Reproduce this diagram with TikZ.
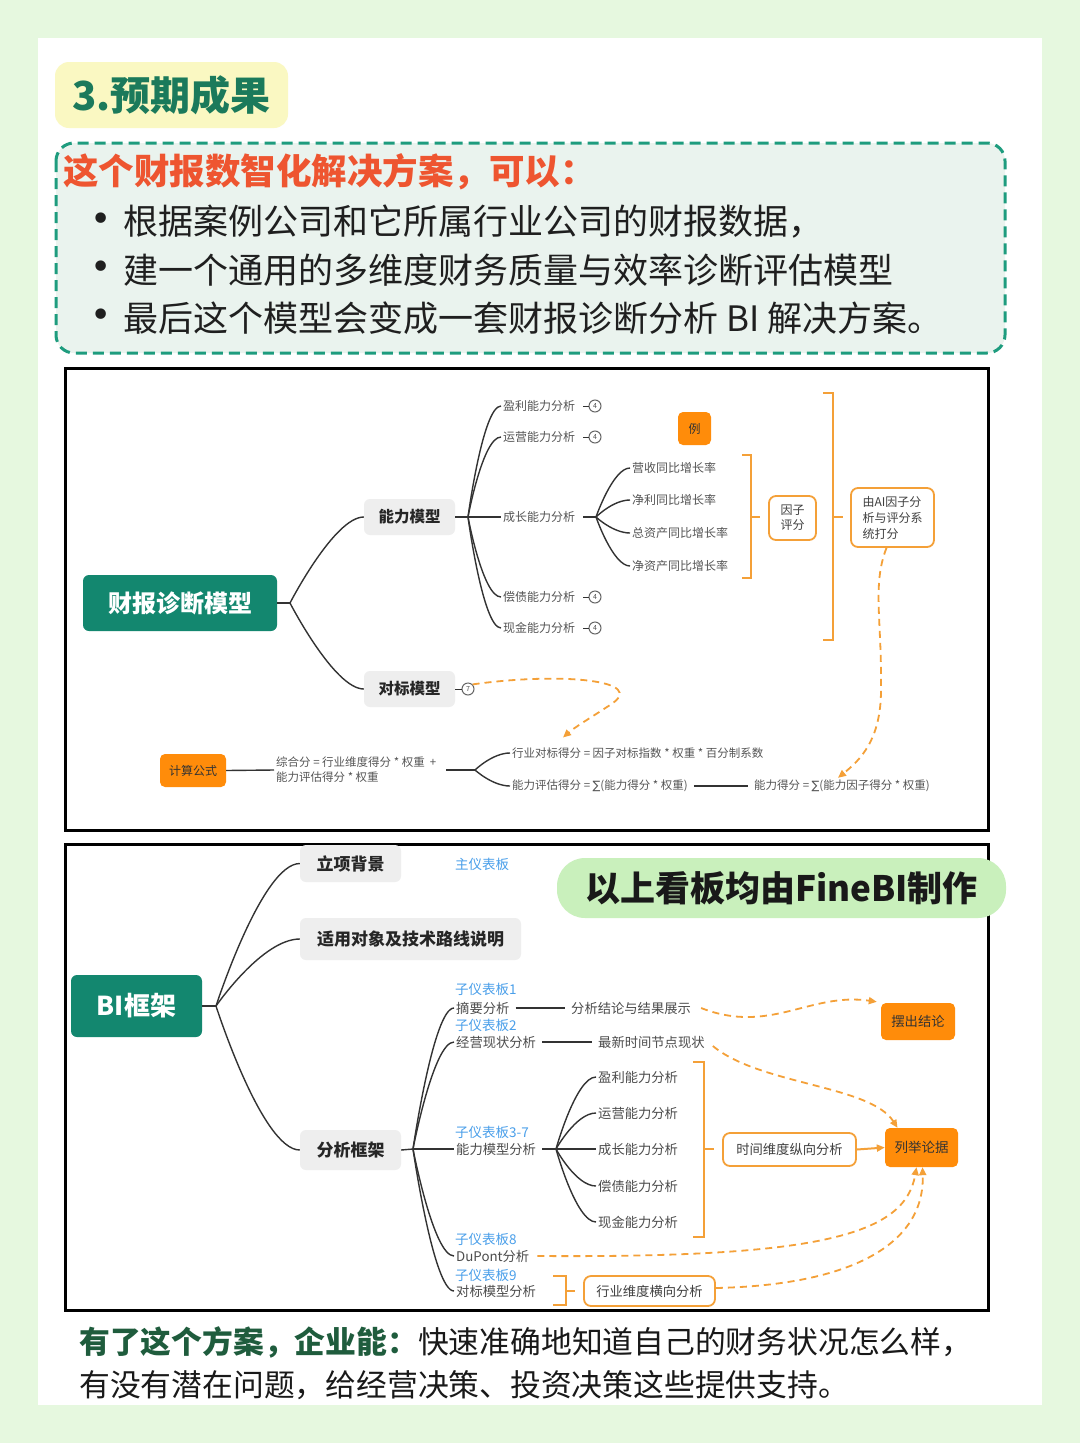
\documentclass[tikz,border=0pt]{standalone}
\usepackage{fontspec}
\setmainfont{Noto Sans CJK SC}
\newfontfamily\symf{DejaVu Sans}
\usetikzlibrary{arrows.meta,calc}
\definecolor{bgout}{HTML}{E6F8DF}
\definecolor{tealc}{HTML}{13876F}
\definecolor{dashteal}{HTML}{1E9C7E}
\definecolor{boxfill}{HTML}{EAF3EE}
\definecolor{ttlgreen}{HTML}{1B7A5B}
\definecolor{ylw}{HTML}{FAF8C2}
\definecolor{redt}{HTML}{EE5530}
\definecolor{org}{HTML}{FF8C0A}
\definecolor{orgl}{HTML}{F4A038}
\definecolor{grayf}{HTML}{EEEEEE}
\definecolor{txtg}{HTML}{555555}
\definecolor{bluet}{HTML}{4A9FEA}
\definecolor{pillg}{HTML}{C9F0BC}
\definecolor{darkg}{HTML}{1F5C3D}
\newcommand\mlink[3][0.45]{\draw[mml] (#2) .. controls (#2) and ($(#2|-#3)!#1!(#3)$) .. (#3);}
\tikzset{
  mml/.style={draw=black!80, line width=1.4pt},
  leaf/.style={inner sep=2pt, anchor=west, text=txtg, font=\fontsize{12}{15}\selectfont},
  leafb/.style={inner sep=2pt, anchor=west, text=black!70, font=\fontsize{13.3}{16}\selectfont},
  blab/.style={inner sep=1pt, anchor=west, text=bluet, font=\fontsize{13.5}{16}\selectfont},
  subbox/.style={fill=grayf, rounded corners=6pt, text=black!85, inner sep=0pt},
  rootbox/.style={fill=tealc, rounded corners=6pt, text=white, inner sep=0pt},
  ofill/.style={fill=org, rounded corners=5pt, text=black!80, inner sep=0pt},
  obox/.style={draw=orgl, line width=1.8pt, rounded corners=7pt, fill=white, text=black!75, inner sep=0pt},
  obr/.style={draw=orgl, line width=1.8pt},
  odash/.style={draw=orgl, line width=1.8pt, dash pattern=on 7pt off 5pt, -{Triangle[length=8pt,width=7pt]}},
  numc/.style={circle, draw=black!60, line width=1pt, minimum size=12pt, inner sep=0pt, text=black!70, font=\fontsize{7}{8}\selectfont},
  btxt/.style={anchor=west, inner sep=0pt, text=black!88, font=\fontsize{35}{40}\selectfont},
  bul/.style={inner sep=0pt, text=black!88, font=\fontsize{36}{40}\selectfont\symf},
}
\begin{document}
\begin{tikzpicture}[x=1pt,y=-1pt]
\fill[bgout] (0,0) rectangle (1080,1443);
\fill[white] (38,38) rectangle (1042,1405);

% ---------- header ----------
\node[fill=ylw, rounded corners=14pt, minimum width=233pt, minimum height=66pt, inner sep=0pt,
      text=ttlgreen, font=\fontsize{40}{44}\selectfont\bfseries] (ttl) at (171.5,95) {3.预期成果};

\draw[dashteal, line width=3pt, dash pattern=on 11pt off 6pt, rounded corners=18pt, fill=boxfill] (56,143) rectangle (1005,353);
\node[anchor=west, inner sep=0pt, text=redt, font=\fontsize{35.5}{40}\selectfont\bfseries] (h1) at (63,172) {这个财报数智化解决方案，可以：};
\node[bul] (bu1) at (101,222) {•};
\node[btxt] (l1) at (123,222) {根据案例公司和它所属行业公司的财报数据，};
\node[bul] (bu2) at (101,270) {•};
\node[btxt] (l2) at (123,270) {建一个通用的多维度财务质量与效率诊断评估模型};
\node[bul] (bu3) at (101,318) {•};
\node[btxt] (l3) at (123,318) {最后这个模型会变成一套财报诊断分析\ BI\ 解决方案。};

% ---------- diagram 1 ----------
\draw[line width=3pt] (65,368) rectangle (988,830);

\node[rootbox, minimum width=194pt, minimum height=56pt, font=\fontsize{24}{28}\selectfont\bfseries] (root1) at (180,603) {财报诊断模型};
\node[subbox, minimum width=91pt, minimum height=36pt, font=\fontsize{15.5}{18}\selectfont\bfseries] (nlmx) at (409.5,517) {能力模型};
\node[subbox, minimum width=91pt, minimum height=36pt, font=\fontsize{15.5}{18}\selectfont\bfseries] (dbmx) at (409.5,689) {对标模型};
\coordinate (j0) at (290,603);
\draw[mml] (root1.east) -- (j0);
\mlink[0.6]{j0}{nlmx.west}
\mlink[0.6]{j0}{dbmx.west}

\coordinate (j1) at (468,517);
\draw[mml] (nlmx.east) -- (j1);
\node[leaf] (a1) at (501,406) {盈利能力分析};
\node[leaf] (a2) at (501,437) {运营能力分析};
\node[leaf] (a3) at (501,517) {成长能力分析};
\node[leaf] (a4) at (501,597) {偿债能力分析};
\node[leaf] (a5) at (501,628) {现金能力分析};
\mlink{j1}{a1.west}
\mlink{j1}{a2.west}
\draw[mml] (j1) -- (a3.west);
\mlink{j1}{a4.west}
\mlink{j1}{a5.west}
\node[numc] (c1) at (595,406) {4};
\node[numc] (c2) at (595,437) {4};
\node[numc] (c4) at (595,597) {4};
\node[numc] (c5) at (595,628) {4};
\draw[mml, line width=1pt, shorten <=6pt] (a1.east) -- (c1.west);
\draw[mml, line width=1pt, shorten <=6pt] (a2.east) -- (c2.west);
\draw[mml, line width=1pt, shorten <=6pt] (a4.east) -- (c4.west);
\draw[mml, line width=1pt, shorten <=6pt] (a5.east) -- (c5.west);

\coordinate (j2) at (596,517);
\draw[mml, shorten <=6pt] (a3.east) -- (j2);
\node[leaf] (g1) at (630,468) {营收同比增长率};
\node[leaf] (g2) at (630,500) {净利同比增长率};
\node[leaf] (g3) at (630,533) {总资产同比增长率};
\node[leaf] (g4) at (630,566) {净资产同比增长率};
\mlink[0.5]{j2}{g1.west}
\mlink[0.5]{j2}{g2.west}
\mlink[0.5]{j2}{g3.west}
\mlink[0.5]{j2}{g4.west}

\node[ofill, minimum width=33pt, minimum height=33pt, font=\fontsize{12}{14}\selectfont] (li) at (694.5,428.5) {例};

\draw[obr] (742,455) -- (751,455) -- (751,578) -- (742,578);
\draw[obr] (751,517) -- (760,517);
\node[obox, minimum width=47pt, minimum height=44pt, align=left, font=\fontsize{12}{15}\selectfont] (yzpf) at (792.5,518) {因子\\评分};
\draw[obr] (823,393) -- (833,393) -- (833,640) -- (823,640);
\draw[obr] (833,517) -- (843,517);
\node[obox, minimum width=83pt, minimum height=59pt, align=left, font=\fontsize{12}{16}\selectfont] (ai) at (892.5,517.5) {由AI因子分\\析与评分系\\统打分};

\node[numc] (c7) at (468,689) {7};
\draw[mml, line width=1pt] (dbmx.east) -- (c7.west);

\node[ofill, minimum width=66pt, minimum height=33pt, font=\fontsize{12}{14}\selectfont] (jsgs) at (193,770.5) {计算公式};
\node[leaf, align=left, font=\fontsize{11.5}{15}\selectfont] (zhf) at (274,770) {综合分 = 行业维度得分 * 权重\ \ +\\能力评估得分 * 权重};
\draw[mml] (jsgs.east) -- (zhf.west);
\coordinate (j3) at (475,770);
\draw[mml, shorten <=8pt] (zhf.east) -- (j3);
\node[leaf, font=\fontsize{11.5}{14}\selectfont] (hydb) at (510,753) {行业对标得分 = 因子对标指数 * 权重 * 百分制系数};
\node[leaf, font=\fontsize{11.5}{14}\selectfont] (nlpg) at (510,786) {能力评估得分 = {\symf ∑}(能力得分 * 权重)};
\node[leaf, font=\fontsize{11.5}{14}\selectfont] (nldf) at (752,786) {能力得分 = {\symf ∑}(能力因子得分 * 权重)};
\mlink[0.5]{j3}{hydb.west}
\mlink[0.5]{j3}{nlpg.west}
\draw[mml, shorten <=4pt, shorten >=4pt] (nlpg.east) -- (nldf.west);

\draw[odash] (c7.north east) .. controls (560,672) and (650,680) .. (610,705) .. controls (595,715) and (575,727) .. ([shift={(53,-8)}]hydb.north west);
\draw[odash] ([xshift=-6pt]ai.south) .. controls (872,585) and (882,620) .. (881,690) .. controls (881,740) and (860,760) .. ([xshift=-4pt]nldf.north);

% ---------- diagram 2 ----------
\draw[line width=3pt] (65,844) rectangle (988,1310);

\node[rootbox, minimum width=131pt, minimum height=62pt, font=\fontsize{26}{30}\selectfont\bfseries] (root2) at (136.5,1006) {BI框架};
\node[subbox, minimum width=101pt, minimum height=37pt, font=\fontsize{17}{20}\selectfont\bfseries] (lxbj) at (350.5,863.5) {立项背景};
\node[subbox, minimum width=221pt, minimum height=42pt, font=\fontsize{17}{20}\selectfont\bfseries] (sydx) at (410.5,939) {适用对象及技术路线说明};
\node[subbox, minimum width=101pt, minimum height=40pt, font=\fontsize{17}{20}\selectfont\bfseries] (fxkj) at (350.5,1150) {分析框架};
\coordinate (j4) at (216,1006);
\draw[mml] (root2.east) -- (j4);
\mlink[0.55]{j4}{lxbj.west}
\mlink[0.55]{j4}{sydx.west}
\mlink[0.55]{j4}{fxkj.west}
\node[blab] (zyb) at (454,864) {主仪表板};

\node[fill=pillg, rounded corners=28pt, minimum width=449pt, minimum height=60pt, inner sep=0pt,
      text=black!90, font=\fontsize{35}{40}\selectfont\bfseries] (pill) at (781.5,888) {以上看板均由FineBI制作};

\coordinate (j5) at (413,1149);
\draw[mml] (fxkj.east) -- (j5);
\node[leafb] (s1) at (454,1008) {摘要分析};
\node[leafb] (s2) at (454,1042) {经营现状分析};
\node[leafb] (s3) at (454,1149) {能力模型分析};
\node[leafb] (s4) at (454,1256) {DuPont分析};
\node[leafb] (s5) at (454,1291) {对标模型分析};
\mlink[0.5]{j5}{s1.west}
\mlink[0.5]{j5}{s2.west}
\draw[mml] (j5) -- (s3.west);
\mlink[0.5]{j5}{s4.west}
\mlink[0.5]{j5}{s5.west}
\node[blab] (k1) at (454,989) {子仪表板1};
\node[blab] (k2) at (454,1025) {子仪表板2};
\node[blab] (k3) at (454,1132) {子仪表板3-7};
\node[blab] (k4) at (454,1239) {子仪表板8};
\node[blab] (k5) at (454,1275) {子仪表板9};

\node[leafb] (fxjl) at (569,1008) {分析结论与结果展示};
\node[leafb] (zxsj) at (596,1042) {最新时间节点现状};
\draw[mml, shorten <=4pt, shorten >=4pt] (s1.east) -- (fxjl.west);
\draw[mml, shorten <=4pt, shorten >=4pt] (s2.east) -- (zxsj.west);

\coordinate (j6) at (556,1149);
\draw[mml, shorten <=4pt] (s3.east) -- (j6);
\node[leafb] (m1) at (596,1077) {盈利能力分析};
\node[leafb] (m2) at (596,1113) {运营能力分析};
\node[leafb] (m3) at (596,1149) {成长能力分析};
\node[leafb] (m4) at (596,1186) {偿债能力分析};
\node[leafb] (m5) at (596,1222) {现金能力分析};
\mlink[0.5]{j6}{m1.west}
\mlink[0.5]{j6}{m2.west}
\draw[mml] (j6) -- (m3.west);
\mlink[0.5]{j6}{m4.west}
\mlink[0.5]{j6}{m5.west}

\draw[obr] (693,1062) -- (704,1062) -- (704,1237) -- (693,1237);
\draw[obr] (704,1149) -- (714,1149);
\node[obox, minimum width=133pt, minimum height=33pt, font=\fontsize{13.3}{16}\selectfont] (sjwd) at (789.5,1149.5) {时间维度纵向分析};
\node[ofill, minimum width=73pt, minimum height=39pt, font=\fontsize{13.5}{16}\selectfont] (lljj) at (921.5,1147.5) {列举论据};
\node[ofill, minimum width=74pt, minimum height=37pt, font=\fontsize{13.3}{16}\selectfont] (bcjl) at (918,1021.5) {摆出结论};
\draw[orgl, line width=2pt, -{Triangle[length=8pt,width=7pt]}] (sjwd.east) -- (lljj.west);

\draw[obr] (553,1276) -- (566,1276) -- (566,1305) -- (553,1305);
\draw[obr] (566,1291) -- (575,1291);
\node[obox, minimum width=131pt, minimum height=30pt, font=\fontsize{13.3}{16}\selectfont] (hywd) at (649.5,1291) {行业维度横向分析};

\draw[odash] ([xshift=8pt]fxjl.east) .. controls (770,1035) and (810,992) .. ([xshift=-4pt,yshift=1pt]bcjl.north west);
\draw[odash] ([xshift=6pt,yshift=-4pt]zxsj.east) .. controls (760,1085) and (870,1085) .. ([xshift=-24pt]lljj.north);
\draw[odash] ([xshift=6pt]s4.east) .. controls (820,1258) and (905,1235) .. ([xshift=-5pt]lljj.south);
\draw[odash] ([yshift=3pt]hywd.east) .. controls (850,1285) and (925,1245) .. ([xshift=1pt]lljj.south);

% ---------- bottom ----------
\node[anchor=west, inner sep=0pt, text=black!90, font=\fontsize{30.8}{36}\selectfont] (bt1) at (79,1342) {{\color{darkg}\bfseries 有了这个方案，企业能：}快速准确地知道自己的财务状况怎么样，};
\node[anchor=west, inner sep=0pt, text=black!90, font=\fontsize{30.8}{36}\selectfont] (bt2) at (79,1385) {有没有潜在问题，给经营决策、投资决策这些提供支持。};
\end{tikzpicture}
\end{document}
